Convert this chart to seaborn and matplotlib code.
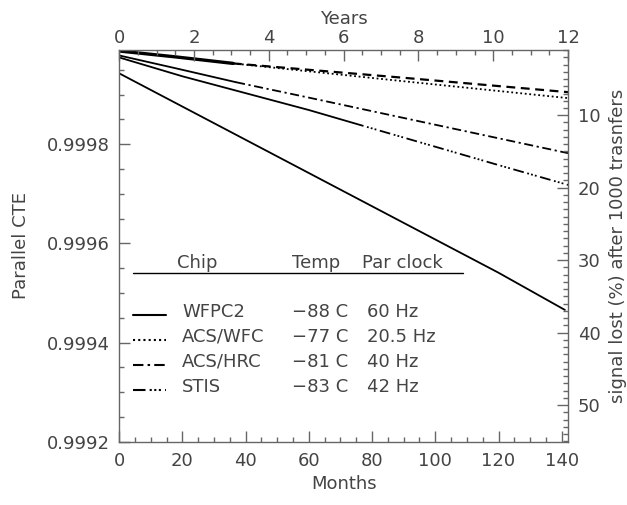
import numpy as np
import pandas as pd
import matplotlib
matplotlib.use("Agg")
import matplotlib.pyplot as plt
import seaborn as sns
from matplotlib.ticker import MultipleLocator

# measured part (solid) and extrapolation for each chip, months vs parallel CTE
wfpc2_months = [0, 20, 40, 60, 80, 100, 120, 141]
wfpc2_cte = [0.999943, 0.999876, 0.999809, 0.999742, 0.999675, 0.999608, 0.999541, 0.999466]

wfc_months = [0, 18, 36]
wfc_cte = [0.999988, 0.999976, 0.999963]
wfc_dash_months = [36, 90, 142]
wfc_dash_cte = [0.999963, 0.999934, 0.999905]
wfc_dot_months = [36, 90, 142]
wfc_dot_cte = [0.999963, 0.999927, 0.999893]

hrc_months = [0, 18, 37]
hrc_cte = [0.999979, 0.999953, 0.999925]
hrc_ext_months = [37, 60, 90, 120, 142]
hrc_ext_cte = [0.999925, 0.999894, 0.999853, 0.999812, 0.999782]

stis_months = [0, 20, 40, 60, 74]
stis_cte = [0.999975, 0.999937, 0.999903, 0.999869, 0.999843]
stis_ext_months = [74, 100, 120, 142]
stis_ext_cte = [0.999843, 0.999795, 0.999758, 0.999718]

chips = ["WFPC2", "ACS/WFC", "ACS/HRC", "STIS"]
temps = ["\u221288 C", "\u221277 C", "\u221281 C", "\u221283 C"]
clocks = ["60 Hz", "20.5 Hz", "40 Hz", "42 Hz"]

sns.set_theme(style="ticks")
plt.rcParams["font.family"] = ["DejaVu Sans"]
txt = "#444444"
axc = "#666666"
plt.rcParams.update({
    "axes.edgecolor": axc, "xtick.color": axc, "ytick.color": axc,
    "xtick.labelcolor": txt, "ytick.labelcolor": txt, "axes.labelcolor": txt,
    "font.size": 13, "xtick.labelsize": 13, "ytick.labelsize": 13,
    "axes.labelsize": 13, "axes.linewidth": 1.0,
})

dot = (0, (1, 1.5))
dashdot = (0, (5, 2, 1.2, 2))
dash3dot = (0, (6, 2, 1, 1.2, 1, 1.2, 1, 2))
dash = (0, (4, 2.5))

fig = plt.figure(figsize=(6.27, 5.05), dpi=100)
ax = fig.add_axes([0.190, 0.125, 0.716, 0.776])

def seg(x, y, ls, lw=1.3):
    d = pd.DataFrame({"m": x, "cte": y})
    sns.lineplot(data=d, x="m", y="cte", ax=ax, color="black", lw=lw, linestyle=ls)

seg(wfpc2_months, wfpc2_cte, "-")
seg(wfc_months, wfc_cte, "-", lw=2.4)
seg(wfc_dash_months, wfc_dash_cte, dash, lw=1.6)
seg(wfc_dot_months, wfc_dot_cte, dot)
seg(hrc_months, hrc_cte, "-")
seg(hrc_ext_months, hrc_ext_cte, dashdot)
seg(stis_months, stis_cte, "-")
seg(stis_ext_months, stis_ext_cte, dash3dot)

ax.set_xlim(0, 142)
ax.set_ylim(0.9992, 0.99999)
ax.xaxis.set_major_locator(MultipleLocator(20))
ax.xaxis.set_minor_locator(MultipleLocator(5))
ax.yaxis.set_major_locator(MultipleLocator(0.0002))
ax.yaxis.set_minor_locator(MultipleLocator(0.00005))
ax.yaxis.set_major_formatter(matplotlib.ticker.FormatStrFormatter("%.4f"))
ax.tick_params(which="major", direction="in", length=8, width=1, pad=7)
ax.tick_params(which="minor", direction="in", length=3.5, width=1)
ax.set_xlabel("Months", labelpad=4)
ax.set_ylabel("Parallel CTE", labelpad=12)

# right axis: signal lost after 1000 transfers
ax2 = ax.twinx()
ax2.set_ylim(100 * (1 - 0.9992 ** 1000), 100 * (1 - 0.99999 ** 1000))
ax2.yaxis.set_minor_locator(MultipleLocator(1))
ax2.set_yticks([10, 20, 30, 40, 50])
ax2.tick_params(which="major", direction="in", length=8, width=1, pad=7)
ax2.tick_params(which="minor", direction="in", length=3.5, width=1)
ax2.set_ylabel("signal lost (%) after 1000 trasnfers", labelpad=6)

# top axis: years
ax3 = ax.twiny()
ax3.set_xlim(0, 12)
ax3.xaxis.set_major_locator(MultipleLocator(2))
ax3.xaxis.set_minor_locator(MultipleLocator(0.5))
ax3.tick_params(which="major", direction="in", length=8, width=1, pad=2)
ax3.tick_params(which="minor", direction="in", length=3.5, width=1)
ax3.set_xlabel("Years", labelpad=4)
for a in (ax2, ax3):
    for s in a.spines.values():
        s.set_visible(False)

# legend table
tr = ax.transAxes
ax.text(0.129, 0.457, "Chip", transform=tr, color=txt, va="center")
ax.text(0.385, 0.457, "Temp", transform=tr, color=txt, va="center")
ax.text(0.541, 0.457, "Par clock", transform=tr, color=txt, va="center")
ax.plot([0.031, 0.766], [0.431, 0.431], transform=tr, color="black", lw=1)
styles = ["-", dot, dashdot, dash3dot]
rows = [0.332, 0.268, 0.204, 0.140]
for chip, t, c, ls, yy in zip(chips, temps, clocks, styles, rows):
    ax.plot([0.031, 0.104], [yy - 0.008, yy - 0.008], transform=tr, color="black",
            lw=1.5, linestyle=ls)
    ax.text(0.140, yy, chip, transform=tr, color=txt, va="center")
    ax.text(0.385, yy, t, transform=tr, color=txt, va="center")
    ax.text(0.553, yy, c, transform=tr, color=txt, va="center")

fig.savefig("out.png", dpi=100)
